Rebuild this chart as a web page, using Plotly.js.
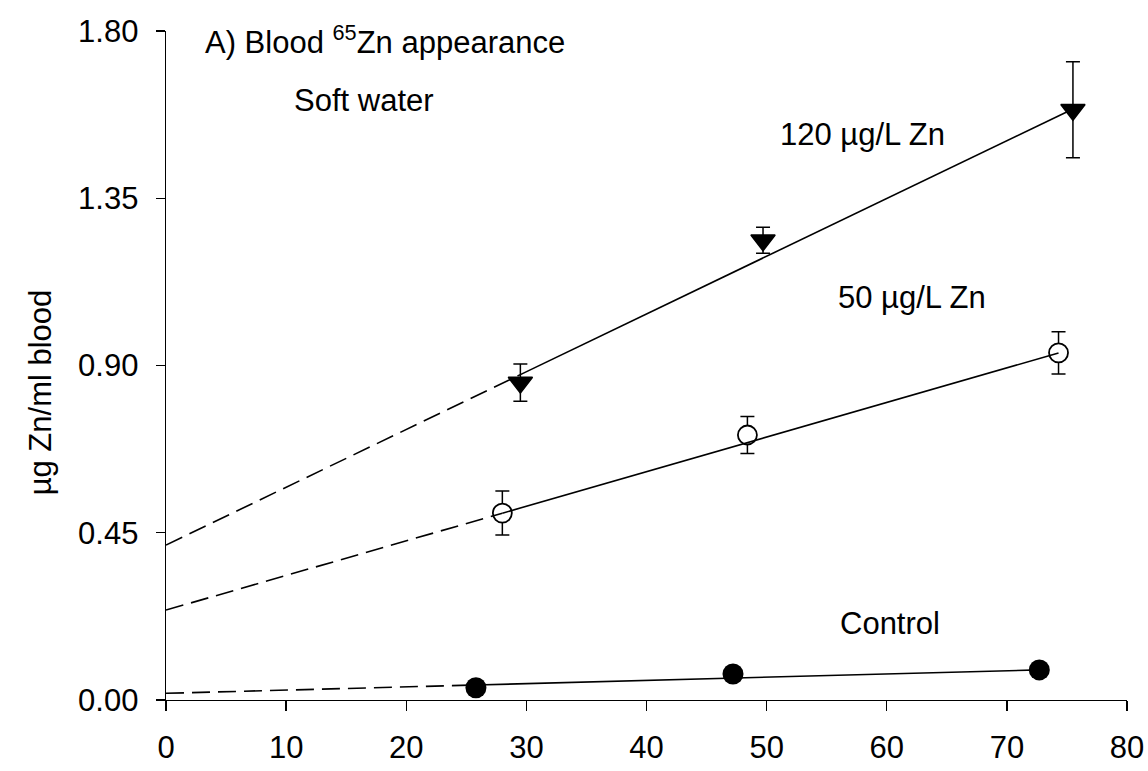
<!DOCTYPE html>
<html>
<head>
<meta charset="utf-8">
<script src="https://cdn.plot.ly/plotly-3.0.1.min.js"></script>
<style>
  html, body { margin: 0; padding: 0; background: #fff; }
  #chart { width: 1148px; height: 771px; }
</style>
</head>
<body>
<div id="chart"></div>
<script>
// Blood 65Zn accumulation in soft water, three exposure groups
const seriesNames = ['120 µg/L Zn', '50 µg/L Zn', 'Control'];

const zn120X = [29.5, 49.7, 75.5];
const zn120Y = [0.854, 1.237, 1.588];
const zn120Err = [0.050, 0.035, 0.129];

const zn50X = [28.0, 48.4, 74.3];
const zn50Y = [0.503, 0.713, 0.934];
const zn50Err = [0.059, 0.050, 0.057];

const ctrlX = [25.8, 47.2, 72.7];
const ctrlY = [0.033, 0.070, 0.081];

// Linear regression of each group: intercept and slope
const fitIntercept = [0.417, 0.242, 0.018];
const fitSlope = [0.01554, 0.00931, 0.000867];

const xTicks = [0, 10, 20, 30, 40, 50, 60, 70, 80];
const yTicks = [0, 0.45, 0.90, 1.35, 1.80];
const yTickText = ['0.00', '0.45', '0.90', '1.35', '1.80'];

const FONT = 'Liberation Sans, Arial, Helvetica, sans-serif';
const FS = 31;
const INK = '#000';

function fitLine(i, x0, x1) {
  return [x0, x1].map(x => fitIntercept[i] + fitSlope[i] * x);
}

const groups = [
  { x: zn120X, y: zn120Y, err: zn120Err,
    marker: { symbol: 'triangle-down', size: 21, color: INK, line: { color: INK, width: 1.5 } } },
  { x: zn50X, y: zn50Y, err: zn50Err,
    marker: { symbol: 'circle', size: 19, color: '#fff', line: { color: INK, width: 1.8 } } },
  { x: ctrlX, y: ctrlY, err: null,
    marker: { symbol: 'circle', size: 21, color: INK, line: { width: 0 } } }
];

const traces = [];

// measured points with SE bars
groups.forEach((g, i) => {
  const t = {
    type: 'scatter', mode: 'markers', name: seriesNames[i],
    x: g.x, y: g.y, marker: g.marker, cliponaxis: false
  };
  if (g.err) {
    t.error_y = { type: 'data', array: g.err, visible: true,
                  color: INK, thickness: 1.5, width: 7 };
  }
  traces.push(t);
});

// regression lines: dashed back-extrapolation to zero, solid over the data
groups.forEach((g, i) => {
  const first = g.x[0];
  const last = g.x[g.x.length - 1];
  traces.push({
    type: 'scatter', mode: 'lines', showlegend: false, hoverinfo: 'skip',
    x: [0, first], y: fitLine(i, 0, first),
    line: { color: INK, width: 1.6, dash: '18px,8px' }
  });
  traces.push({
    type: 'scatter', mode: 'lines', showlegend: false, hoverinfo: 'skip',
    x: [first, last], y: fitLine(i, first, last),
    line: { color: INK, width: 1.6 }
  });
});

const txt = (text, x, y) => ({
  text: text, x: x, y: y, xref: 'x', yref: 'y',
  xanchor: 'left', yanchor: 'middle', showarrow: false,
  font: { family: FONT, size: FS, color: INK }
});

const layout = {
  width: 1148, height: 771,
  margin: { l: 166, r: 21, t: 31, b: 71 },
  paper_bgcolor: '#fff', plot_bgcolor: '#fff',
  showlegend: false,
  font: { family: FONT, size: FS, color: INK },
  xaxis: {
    range: [0, 80], tickvals: xTicks, ticks: 'outside', ticklen: 10,
    tickwidth: 1.3, tickcolor: INK, showline: true, linecolor: INK, linewidth: 1.4,
    showgrid: false, zeroline: false, ticklabelstandoff: 9,
    tickfont: { family: FONT, size: FS, color: INK }
  },
  yaxis: {
    range: [0, 1.8], tickvals: yTicks, ticktext: yTickText, ticks: 'outside', ticklen: 9,
    tickwidth: 1.3, tickcolor: INK, showline: true, linecolor: INK, linewidth: 1.4,
    showgrid: false, zeroline: false, ticklabelstandoff: 11,
    tickfont: { family: FONT, size: FS, color: INK }
  },
  annotations: [
    txt('A) Blood <sup>65</sup>Zn appearance', 3.08, 1.775),
    txt('Soft water', 10.5, 1.612),
    txt(seriesNames[0], 50.96, 1.522),
    txt(seriesNames[1], 55.8, 1.084),
    txt(seriesNames[2], 55.95, 0.206),
    { text: 'µg Zn/ml blood', xref: 'paper', yref: 'paper', x: -0.131, y: 0.46,
      xanchor: 'center', yanchor: 'middle', textangle: -90, showarrow: false,
      font: { family: FONT, size: FS, color: INK } }
  ]
};

Plotly.newPlot('chart', traces, layout, { displayModeBar: false, staticPlot: true });
</script>
</body>
</html>
